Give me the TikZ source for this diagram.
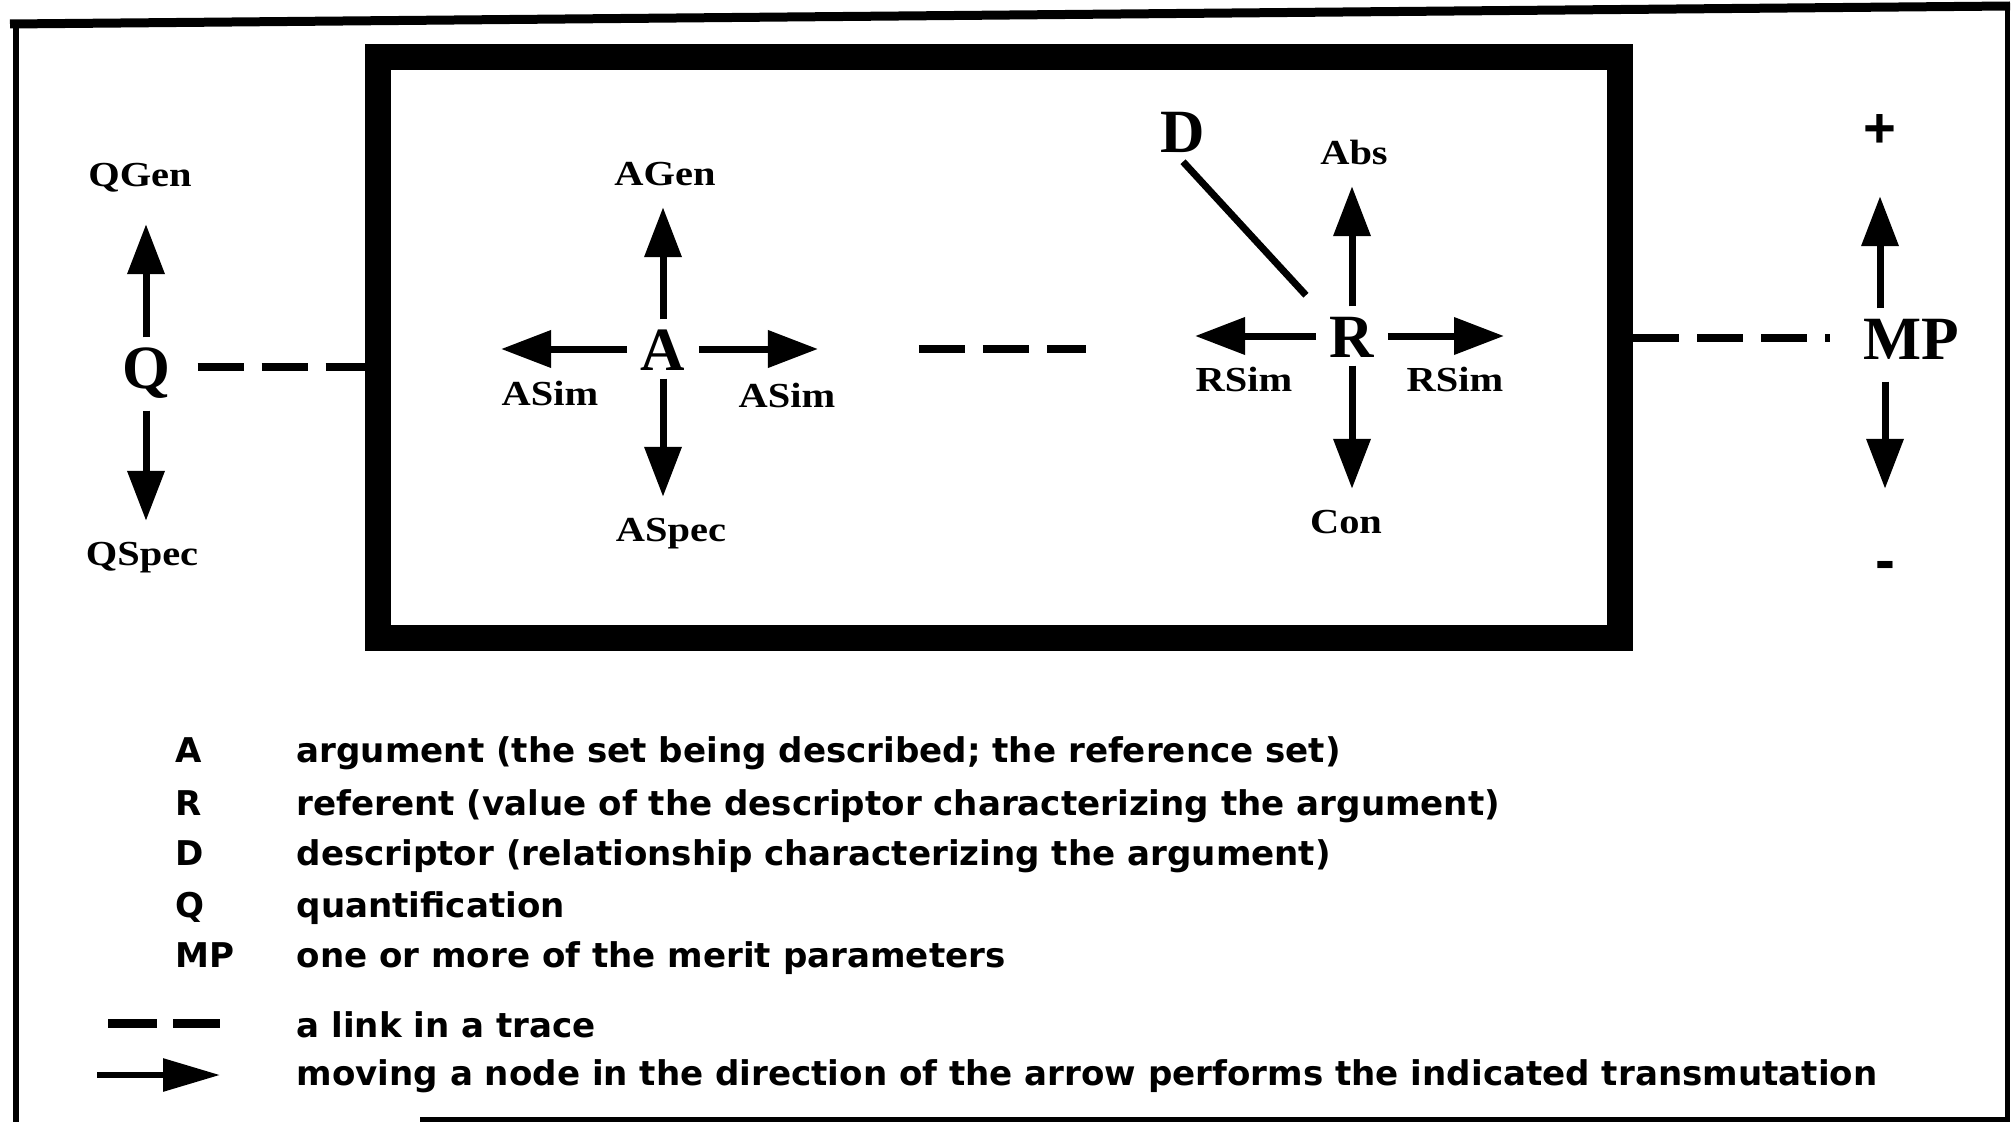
\documentclass[tikz,border=0pt]{standalone}
\usepackage{fontspec}
\setmainfont{Liberation Serif}
\newfontfamily\lblfont[FakeStretch=1.15]{Liberation Serif}
\newfontfamily\legfont{DejaVu Sans}
\newfontfamily\signfont{Liberation Sans}
\usetikzlibrary{arrows.meta}

\begin{document}
\begin{tikzpicture}[x=0.1mm, y=-0.1mm,
      big/.style={font=\bfseries\fontsize{17.5}{18}\selectfont, text height=4.2mm, text depth=0pt,
                  inner xsep=1.3mm, inner ysep=0.8mm},
      lbl/.style={font=\lblfont\bfseries\fontsize{10}{11}\selectfont, text height=2.3mm, text depth=0pt,
                  inner xsep=0pt, inner ysep=2.1mm},
      sign/.style={font=\signfont\bfseries, inner sep=0pt},
      legkey/.style={font=\legfont\bfseries\fontsize{9.7}{11}\selectfont, anchor=west, inner sep=0pt,
                     text height=2.4mm, text depth=0pt},
      ar/.style={-{Triangle[length=5mm, width=3.6mm]}, line width=0.7mm},
      trace/.style={line width=0.85mm, dash pattern=on 4.6mm off 1.8mm}
    ]
    \useasboundingbox (0,0) rectangle (2013,1122);
    % outer frame
    \draw[line width=0.6mm] (16,1122) -- (16,22);
    \draw[line width=0.9mm] (10,24) -- (2010,6);
    \draw[line width=0.5mm] (2007,6) -- (2007,1119) -- (420,1119);
    % the description space
    \node[draw, line width=2.6mm, minimum width=124.2mm, minimum height=58.1mm, inner sep=0pt] (space) at (999,347) {};

    \node[big] (Q)  at (146,367)  {Q};
    \node[big] (A)  at (663,349)  {A};
    \node[big] (R)  at (1352,336) {R};
    \node[big] (D)  at (1183,132) {D};
    \node[big] (MP) at (1911,338) {MP};

    \node[lbl] (qgen)  at (140,175)  {QGen};
    \node[lbl] (qspec) at (142,554)  {QSpec};
    \node[lbl] (agen)  at (665,174)  {AGen};
    \node[lbl] (aspec) at (671,530)  {ASpec};
    \node[lbl] (asiml) at (550,394)  {ASim};
    \node[lbl] (asimr) at (787,396)  {ASim};
    \node[lbl] (abs)   at (1354,153) {Abs};
    \node[lbl] (con)   at (1346,522) {Con};
    \node[lbl] (rsiml) at (1244,380) {RSim};
    \node[lbl] (rsimr) at (1455,380) {RSim};
    \node[sign, font=\signfont\bfseries\fontsize{16}{16}\selectfont] (plus)  at (1880,131) {+};
    \node[sign, font=\signfont\bfseries\fontsize{17}{17}\selectfont] (minus) at (1885,571) {-};

    \draw[ar, shorten >=1.6mm] (Q.north) -- (Q.north |- qgen.south);
    \draw[ar, shorten <=1.4mm] (Q.south) -- (Q.south |- qspec.north);
    \draw[ar] (A.north) -- (A.north |- agen.south);
    \draw[ar] (A.south) -- (A.south |- aspec.north);
    \draw[ar] (A.west) -- (A.west -| asiml.west);
    \draw[ar, shorten >=1.8mm] (A.east) -- (A.east -| asimr.east);
    \draw[ar] (R.north) -- (R.north |- abs.south);
    \draw[ar] (R.south) -- (R.south |- con.north);
    \draw[ar] (R.west) -- (R.west -| rsiml.west);
    \draw[ar] (R.east) -- (R.east -| rsimr.east);
    \draw[line width=0.7mm, shorten >=1.5mm] (D.south) -- (R.north west);
    \draw[ar, shorten >=4.8mm] (MP.north -| plus) -- (plus.south);
    \draw[ar, shorten <=1.4mm, shorten >=7.2mm] (MP.south -| minus) -- (minus.north);

    \draw[trace, shorten <=1.4mm] (Q.east) -- (Q.east -| space.west);
    \draw[trace, shorten <=22mm, shorten >=23mm] (A.east) -- (A.east -| R.west);
    \draw[trace, shorten >=2mm] (space.east |- MP) -- (MP.west);

    % legend
    \node[legkey] (kA)  at (175,750) {A};
    \node[legkey] (kR)  at (175,803) {R};
    \node[legkey] (kD)  at (175,853) {D};
    \node[legkey] (kQ)  at (175,905) {Q};
    \node[legkey] (kMP) at (175,955) {MP};
    \node[legkey] (tA)  at (296,750) {argument (the set being described; the reference set)};
    \node[legkey] (tR)  at (296,803) {referent (value of the descriptor characterizing the argument)};
    \node[legkey] (tD)  at (296,853) {descriptor (relationship characterizing the argument)};
    \node[legkey] (tQ)  at (296,905) {quantification};
    \node[legkey] (tMP) at (296,955) {one or more of the merit parameters};
    \node[legkey] (tlink) at (296,1025) {a link in a trace};
    \node[legkey] (tmove) at (296,1073) {moving a node in the direction of the arrow performs the indicated transmutation};
    \coordinate (linkfrom) at (108,1023);
    \coordinate (linkto)   at (220,1023);
    \coordinate (movefrom) at (97,1075);
    \coordinate (moveto)   at (220,1075);
    \draw[line width=0.9mm, dash pattern=on 4.9mm off 1.6mm] (linkfrom) -- (linkto);
    \draw[line width=0.6mm, -{Triangle[length=5.7mm, width=3.2mm]}] (movefrom) -- (moveto);
  \end{tikzpicture}
\end{document}
